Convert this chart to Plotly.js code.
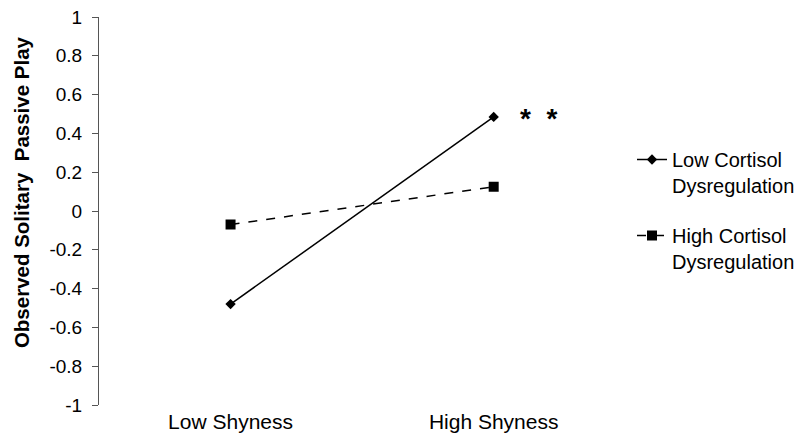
<!DOCTYPE html>
<html>
<head>
<meta charset="utf-8">
<script src="https://cdn.plot.ly/plotly-3.0.1.min.js"></script>
<style>html,body{margin:0;padding:0;background:#fff;}#chart{width:807px;height:439px;}</style>
</head>
<body>
<div id="chart"></div>
<script>
const categories = ["Low Shyness", "High Shyness"];
const lowCortisol = [-0.48, 0.485];
const highCortisol = [-0.07, 0.125];
const seriesNames = ["Low Cortisol<br>Dysregulation", "High Cortisol<br>Dysregulation"];
const yTicks = [-1, -0.8, -0.6, -0.4, -0.2, 0, 0.2, 0.4, 0.6, 0.8, 1];
const yTickLabels = ["-1", "-0.8", "-0.6", "-0.4", "-0.2", "0", "0.2", "0.4", "0.6", "0.8", "1"];
const yTitle = "Observed Solitary  Passive Play";
const sigLabel = "*  *";

const font = "Liberation Sans, Arial, sans-serif";

const W = 807, H = 439;
const margin = {l: 99, r: 8, t: 17, b: 34};
const paperW = W - margin.l - margin.r;
const paperH = H - margin.t - margin.b;
const px2x = (px) => (px - margin.l) / paperW;
const px2y = (py) => 1 - (py - margin.t) / paperH;

const traces = [
  {
    x: categories, y: lowCortisol, name: seriesNames[0], legendgroup: "a", type: "scatter", mode: "lines+markers",
    line: {color: "#000", width: 1.5, dash: "solid"},
    marker: {symbol: "diamond", size: 8, color: "#000"}
  },
  {
    x: categories, y: highCortisol, name: seriesNames[1], legendgroup: "b", type: "scatter", mode: "lines+markers",
    line: {color: "#000", width: 1.5, dash: "dash"},
    marker: {symbol: "square", size: 10, color: "#000"}
  }
];

const layout = {
  width: W, height: H,
  margin: margin,
  paper_bgcolor: "#fff", plot_bgcolor: "#fff",
  font: {family: font, color: "#000", size: 19},
  showlegend: true,
  legend: {
    x: px2x(632), xanchor: "left", y: px2y(140), yanchor: "top", valign: "top",
    font: {family: font, size: 20, color: "#000"},
    tracegroupgap: 21, itemwidth: 30, bgcolor: "rgba(0,0,0,0)"
  },
  xaxis: {
    type: "category", range: [-0.5, 1.5], domain: [0, px2x(626)],
    showline: false, showgrid: false, zeroline: false, ticks: "",
    tickfont: {family: font, size: 21, color: "#000"}, ticklabelstandoff: 2
  },
  yaxis: {
    range: [-1, 1], tickvals: yTicks, ticktext: yTickLabels,
    showline: true, linecolor: "#555", linewidth: 1,
    ticks: "outside", ticklen: 6, tickcolor: "#555",
    showgrid: false, zeroline: false,
    tickfont: {family: font, size: 19, color: "#000"}, ticklabelstandoff: 6
  },
  annotations: [
    {x: 1, y: lowCortisol[1], xref: "x", yref: "y", text: sigLabel, showarrow: false,
     xshift: 45, yshift: -2, font: {family: font, size: 28, color: "#000", weight: "bold"}},
    {x: px2x(22), y: px2y(192), xref: "paper", yref: "paper", text: yTitle, showarrow: false, textangle: -90,
     xanchor: "center", yanchor: "middle",
     font: {family: font, size: 20.5, color: "#000", weight: "bold"}}
  ]
};

Plotly.newPlot("chart", traces, layout, {displayModeBar: false, staticPlot: true});
</script>
</body>
</html>
